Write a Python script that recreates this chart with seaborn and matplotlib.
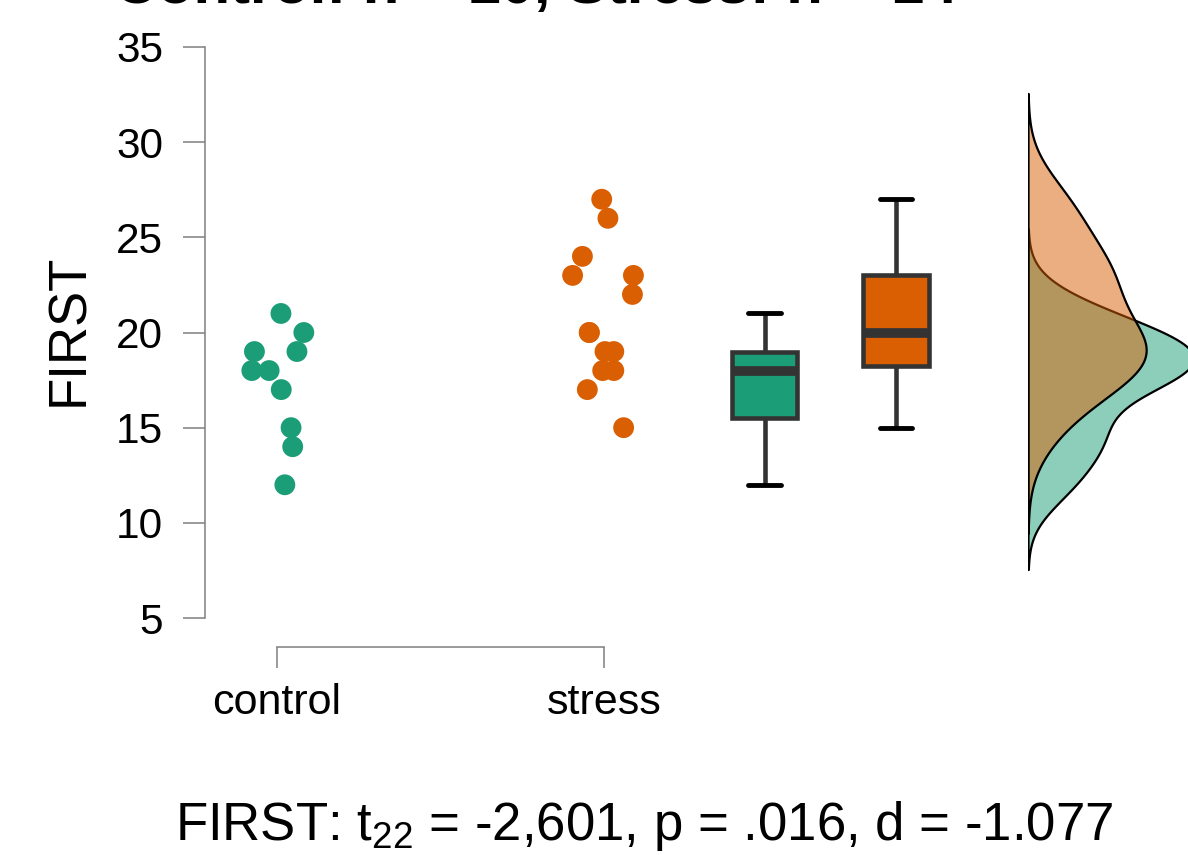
import numpy as np
import pandas as pd
import matplotlib
matplotlib.use("Agg")
import matplotlib.pyplot as plt
import seaborn as sns

# ---------------- data ----------------
groups = ["control", "stress"]
control_values = [21, 20, 19, 19, 18, 18, 17, 15, 14, 12]
control_jitter = [0.012, 0.082, -0.069, 0.061, -0.077, -0.024, 0.013, 0.043, 0.048, 0.024]
stress_values = [27, 26, 24, 23, 23, 22, 20, 19, 19, 18, 18, 17, 15, 20]
stress_jitter = [-0.007, 0.012, -0.066, -0.096, 0.090, 0.087, -0.045, 0.003, 0.030,
                 -0.004, 0.030, -0.051, 0.060, -0.045]
colors = ["#1B9E77", "#D95F02"]
y_ticks = [5, 10, 15, 20, 25, 30, 35]
title_text = "Control: n = 10, Stress: n = 14"
stat_text = "FIRST: t$_{22}$ = -2,601, p = .016, d = -1.077"
y_label = "FIRST"

# ---------------- style ----------------
sns.set_style("white")
plt.rcParams["font.family"] = ["Liberation Sans", "DejaVu Sans"]
plt.rcParams["mathtext.default"] = "regular"
plt.rcParams["text.color"] = "black"
plt.rcParams["xtick.labelcolor"] = "black"
plt.rcParams["ytick.labelcolor"] = "black"

W, H = 1188, 855
fig = plt.figure(figsize=(W / 100, H / 100), dpi=100)
fig.patch.set_facecolor("white")


def px_axes(left, top, right, bottom):
    return fig.add_axes([left / W, 1 - bottom / H, (right - left) / W, (bottom - top) / H])


# long-format data
df = pd.DataFrame({
    "group": ["control"] * len(control_values) + ["stress"] * len(stress_values),
    "value": control_values + stress_values,
    "jitter": control_jitter + stress_jitter,
})
df["pos"] = df["group"].map({"control": 1, "stress": 2}) + df["jitter"]

# ---------------- main axes: points ----------------
ax = px_axes(205, 47, 1188, 618)
x_unit = 327.0
ax.set_xlim(1 - (277 - 205) / x_unit, 1 + (1188 - 277) / x_unit)
ax.set_ylim(5, 35)
sns.scatterplot(data=df, x="pos", y="value", hue="group", palette=colors,
                s=225, edgecolor="none", linewidth=0, legend=False, ax=ax, zorder=3)
ax.patch.set_alpha(0)
for s in ["top", "right"]:
    ax.spines[s].set_visible(False)
axis_gray = "#7f7f7f"
ax.spines["left"].set_color(axis_gray)
ax.spines["left"].set_linewidth(1.1)
ax.spines["left"].set_bounds(5, 35)
ax.spines["bottom"].set_color(axis_gray)
ax.spines["bottom"].set_linewidth(1.1)
ax.spines["bottom"].set_position(("outward", 29 * 0.72))
ax.spines["bottom"].set_bounds(1, 2)
ax.set_yticks(y_ticks)
ax.set_yticklabels([str(t) for t in y_ticks])
ax.set_xticks([1, 2])
ax.set_xticklabels(groups)
ax.tick_params(axis="y", length=16, width=1.1, color=axis_gray, labelcolor="black",
               labelsize=30.5, pad=14, left=True, direction="out")
ax.tick_params(axis="x", length=15, width=1.1, color=axis_gray, labelcolor="black",
               labelsize=31, pad=11, bottom=True, direction="out")
ax.set_xlabel("")
ax.set_ylabel("")

# ---------------- boxplots ----------------
axb = px_axes(699, 47, 699 + 262.6, 618)
sns.boxplot(data=df, x="group", y="value", hue="group", palette=colors, width=0.5,
            saturation=1, legend=False, ax=axb, linecolor="#333333", linewidth=3.3,
            fliersize=0,
            medianprops=dict(color="#333333", linewidth=7.0),
            capprops=dict(color="black", linewidth=3.5),
            whiskerprops=dict(color="#333333", linewidth=3.3),
            boxprops=dict(edgecolor="#333333", linewidth=3.3))
axb.set_xlim(-0.5, 1.5)
axb.set_ylim(5, 35)
axb.axis("off")
axb.patch.set_alpha(0)

# ---------------- densities ----------------
axd = px_axes(1028, 47, 1188, 618)


def nrd0_factor(vals):
    v = np.asarray(vals, float)
    sd = v.std(ddof=1)
    iqr = np.subtract(*np.percentile(v, [75, 25]))
    h = 0.9 * min(sd, iqr / 1.34) * len(v) ** -0.2
    return h / sd


for vals, col in [(control_values, colors[0]), (stress_values, colors[1])]:
    sns.kdeplot(y=vals, bw_method=nrd0_factor(vals), cut=3, fill=True, color=col,
                alpha=0.5, edgecolor="black", linewidth=1.6, ax=axd)
axd.set_xlim(0, 160 / 1163)
axd.set_ylim(5, 35)
axd.axis("off")
axd.patch.set_alpha(0)

# ---------------- texts ----------------
fig.text(536 / W, 1 - 3 / H, title_text, ha="center", va="baseline",
         fontsize=43, fontweight="bold")
fig.text(69 / W, 1 - 330 / H, y_label, ha="center", va="center", rotation=90, fontsize=38)
fig.text(644 / W, 1 - 840 / H, stat_text, ha="center", va="baseline", fontsize=38)

fig.savefig("out.png", dpi=100)
